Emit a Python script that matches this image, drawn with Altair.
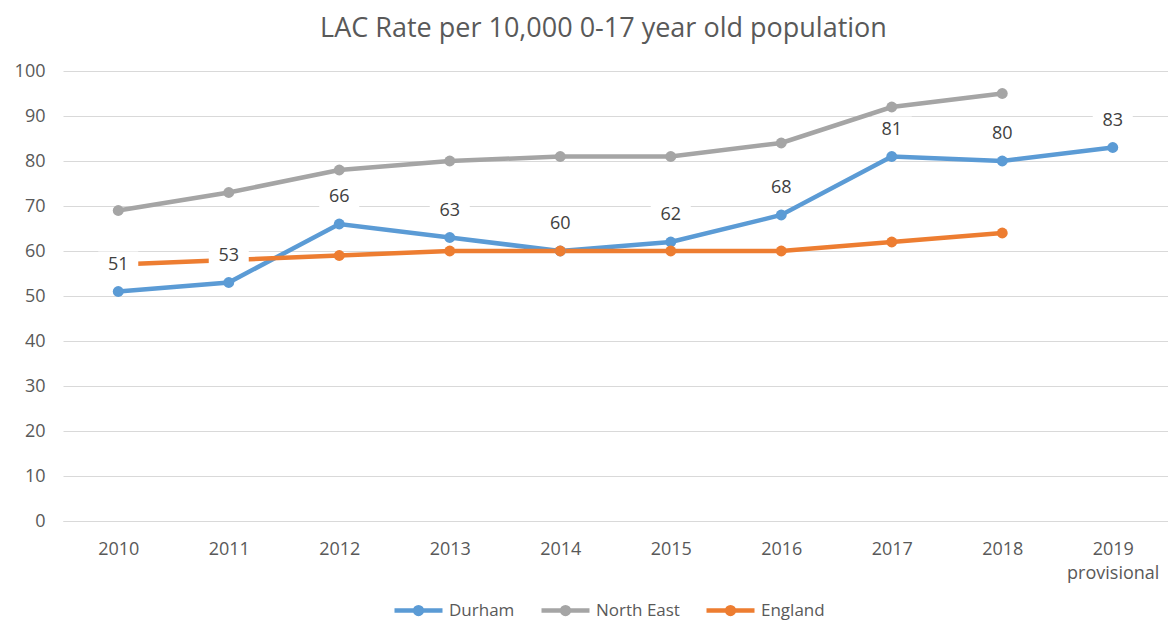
import altair as alt
import pandas as pd

years = ["2010", "2011", "2012", "2013", "2014", "2015", "2016", "2017", "2018", "2019 provisional"]
durham = [51, 53, 66, 63, 60, 62, 68, 81, 80, 83]
north_east = [69, 73, 78, 80, 81, 81, 84, 92, 95, None]
england = [57, 58, 59, 60, 60, 60, 60, 62, 64, None]

series_names = ["Durham", "North East", "England"]
series_colors = ["#5B9BD5", "#A5A5A5", "#ED7D31"]

rows = []
for name, vals in zip(series_names, [durham, north_east, england]):
    for y, v in zip(years, vals):
        if v is not None:
            rows.append({"year": y, "series": name, "value": v})
df = pd.DataFrame(rows)

FONT = "Open Sans"
TXT = "#595959"
GRID = "#D9D9D9"

legend_symbol = ("M-1,0L1,0"
                 "M0.14,0A0.14,0.14,0,1,1,-0.14,0A0.14,0.14,0,1,1,0.14,0"
                 "M0.06,0A0.06,0.06,0,1,1,-0.06,0A0.06,0.06,0,1,1,0.06,0")

x_enc = alt.X(
    "year:N", sort=years, title=None,
    axis=alt.Axis(
        labelAngle=0, ticks=False, grid=False, domainColor=GRID, domainWidth=1,
        labelFont=FONT, labelFontSize=18, labelColor=TXT, labelPadding=19,
        labelLineHeight=24,
        labelExpr="datum.label == '2019 provisional' ? ['2019', 'provisional'] : datum.label",
    ),
)
y_enc = alt.Y(
    "value:Q", title=None,
    scale=alt.Scale(domain=[0, 100], nice=False, zero=True),
    axis=alt.Axis(
        values=list(range(0, 101, 10)), ticks=False, domain=False,
        gridColor=GRID, gridWidth=1, labelFont=FONT, labelFontSize=18,
        labelColor=TXT, labelPadding=18,
    ),
)

color_enc = alt.Color(
    "series:N",
    scale=alt.Scale(domain=series_names, range=series_colors),
    sort=series_names,
    legend=alt.Legend(
        title=None, orient="none", direction="horizontal",
        legendX=329, legendY=513,
        symbolType=legend_symbol, symbolSize=2304, symbolStrokeWidth=4.5,
        labelFont=FONT, labelFontSize=17, labelColor=TXT, labelOffset=4,
        columnPadding=17,
    ),
)

lines = alt.Chart(df).mark_line(
    strokeWidth=4.5,
    point=alt.OverlayMarkDef(filled=True, size=120, opacity=1),
).encode(x=x_enc, y=y_enc, color=color_enc)

durham_df = df[df["series"] == "Durham"]

box_shape = "M-1,-0.65L1,-0.65L1,0.65L-1,0.65Z"
boxes = alt.Chart(durham_df).mark_point(
    shape=box_shape, filled=True, fill="white", opacity=1, size=1600,
    strokeOpacity=0, yOffset=-27,
).encode(x=alt.X("year:N", sort=years), y=alt.Y("value:Q"))

labels = alt.Chart(durham_df).mark_text(
    font=FONT, fontSize=18, color="#404040", dy=-27,
).encode(x=alt.X("year:N", sort=years), y=alt.Y("value:Q"), text=alt.Text("value:Q"))

chart = alt.layer(lines, boxes, labels).properties(
    width=1105, height=450,
    padding={"left": 55, "top": 63, "right": 0, "bottom": 101},
    autosize=alt.AutoSizeParams(type="none"),
    title=alt.TitleParams(
        "LAC Rate per 10,000 0-17 year old population",
        font=FONT, fontSize=27, fontWeight="normal", color=TXT,
        anchor="middle", frame="group", offset=19, dx=-12,
    ),
).configure_view(stroke=None)

chart.save("out.html", embed_options={"renderer": "svg", "actions": False})
